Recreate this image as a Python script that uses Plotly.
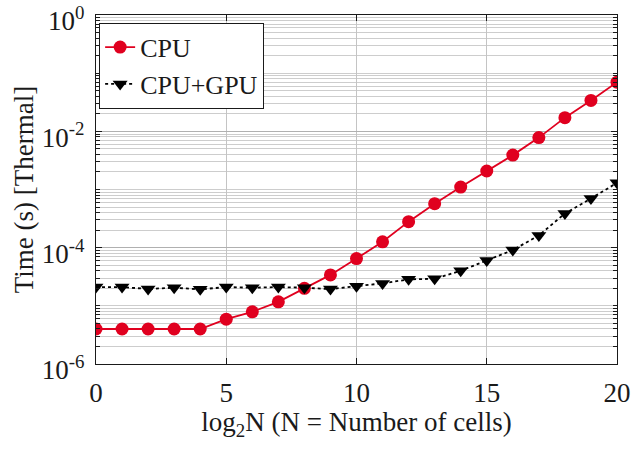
import plotly.graph_objects as go

# log2 of the number of cells
log2_cells = list(range(21))

# Thermal solve time in seconds
cpu_time = [4.0e-6, 4.0e-6, 4.0e-6, 4.0e-6, 4.0e-6, 5.9e-6, 7.9e-6, 1.17e-5, 2.0e-5,
            3.4e-5, 6.5e-5, 1.26e-4, 2.8e-4, 5.7e-4, 1.1e-3, 2.08e-3, 3.9e-3,
            7.8e-3, 1.72e-2, 3.4e-2, 7.0e-2]
gpu_time = [2.1e-5, 2.1e-5, 1.95e-5, 2.05e-5, 1.92e-5, 2.1e-5, 2.05e-5, 2.1e-5, 2.05e-5,
            1.94e-5, 2.18e-5, 2.43e-5, 2.85e-5, 2.92e-5, 4.0e-5, 6.0e-5, 9.1e-5,
            1.62e-4, 3.87e-4, 7.0e-4, 1.3e-3]

y_tick_vals = [1e-6, 1e-4, 1e-2, 1e0]
y_tick_text = ["10<sup>-6</sup>", "10<sup>-4</sup>", "10<sup>-2</sup>", "10<sup>0</sup>"]
x_tick_vals = [0, 5, 10, 15, 20]

FONT = "Liberation Serif, Times New Roman, serif"
FS = 27
INK = "#1a1a1a"
RED = "#E0001F"

# minor grid: every 1..9 x 10^k between the labelled decades
minor_vals = [m * 10.0 ** e for e in range(-6, 0) for m in range(1, 10)
              if not (m == 1 and e % 2 == 0)]

fig = go.Figure()
fig.add_trace(go.Scatter(
    x=log2_cells, y=cpu_time, name="CPU", mode="lines+markers",
    line=dict(color=RED, width=1.8),
    marker=dict(symbol="circle", size=13, color=RED),
))
fig.add_trace(go.Scatter(
    x=log2_cells, y=gpu_time, name="CPU+GPU", mode="lines+markers",
    line=dict(color="black", width=1.8, dash="dot"),
    marker=dict(symbol="triangle-down", size=13, color="black"),
))

fig.update_layout(
    width=631, height=450,
    margin=dict(l=96, r=14, t=15, b=86, autoexpand=False),
    paper_bgcolor="white", plot_bgcolor="white",
    font=dict(family=FONT, size=FS, color=INK),
    showlegend=True,
    legend=dict(
        x=0.006, y=0.978, xanchor="left", yanchor="top",
        bgcolor="white", bordercolor=INK, borderwidth=1,
        font=dict(family=FONT, size=26, color=INK),
        itemwidth=30, tracegroupgap=0,
    ),
)

fig.update_xaxes(
    range=[0, 20], tickmode="array", tickvals=x_tick_vals,
    ticks="inside", ticklen=6, tickcolor=INK,
    showline=True, linecolor=INK, linewidth=1.2, mirror="allticks",
    showgrid=True, gridcolor="#c4c4c4", gridwidth=1,
    zeroline=False, ticklabelstandoff=4, automargin=False,
    tickfont=dict(family=FONT, size=FS, color=INK),
    title=dict(text="log<sub>2</sub>N (N = Number of cells)",
               font=dict(family=FONT, size=FS, color=INK), standoff=4),
)

fig.update_yaxes(
    type="log", range=[-6.0001, 0.0001], tickmode="array",
    tickvals=y_tick_vals, ticktext=y_tick_text,
    ticks="inside", ticklen=6, tickcolor=INK,
    showline=True, linecolor=INK, linewidth=1.2, mirror="allticks",
    showgrid=True, gridcolor="#b0b0b0", gridwidth=1,
    zeroline=False, ticklabelshift=6, ticklabeloverflow="allow",
    ticklabelstandoff=5, automargin=False,
    minor=dict(tickmode="array", tickvals=minor_vals, ticks="inside",
               ticklen=4, tickcolor=INK, showgrid=True,
               gridcolor="#cdcdcd", gridwidth=1),
    tickfont=dict(family=FONT, size=FS, color=INK),
    title=dict(text="Time (s) [Thermal]",
               font=dict(family=FONT, size=FS, color=INK), standoff=0),
)

fig.write_html("out.html")
